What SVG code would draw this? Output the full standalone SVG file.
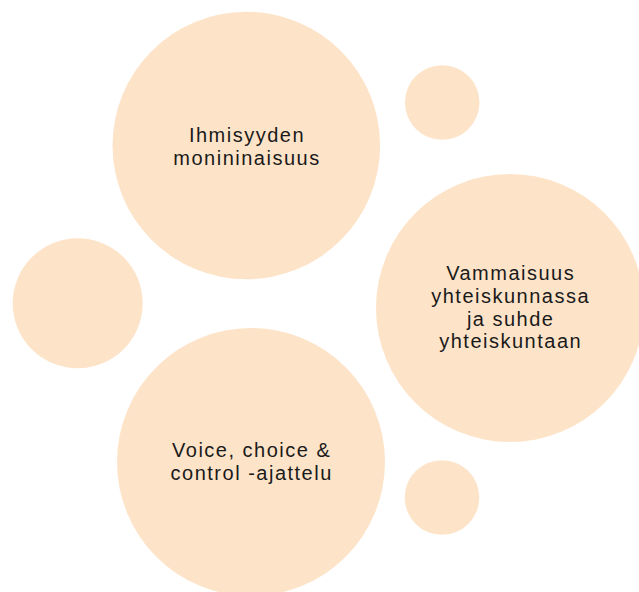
<svg xmlns="http://www.w3.org/2000/svg" width="639" height="592" viewBox="0 0 639 592">
<style>
.c{fill:#FDE4C9}
.t{font-family:"Liberation Sans",Arial,sans-serif;font-size:20px;fill:#1a1a1a;text-anchor:middle;letter-spacing:1.5px}
</style>
<rect width="639" height="592" fill="#ffffff"/>
<g id="connectors"></g>
<g id="n-top"><circle class="c" cx="246.3" cy="145.5" r="133.8"/><text class="t" x="247" y="141.5">Ihmisyyden</text><text class="t" x="247" y="165">monininaisuus</text></g>
<g id="n-small1"><circle class="c" cx="442.2" cy="102.5" r="37.3"/></g>
<g id="n-right"><circle class="c" cx="510" cy="308" r="134"/><text class="t" x="510.7" y="280">Vammaisuus</text><text class="t" x="510.7" y="302.7">yhteiskunnassa</text><text class="t" x="510.7" y="325.5">ja suhde</text><text class="t" x="510.7" y="348">yhteiskuntaan</text></g>
<g id="n-left"><circle class="c" cx="77.7" cy="303.3" r="65"/></g>
<g id="n-bottom"><circle class="c" cx="251" cy="462" r="134"/><text class="t" x="251.7" y="456.7">Voice, choice &amp;</text><text class="t" x="251.7" y="480">control -ajattelu</text></g>
<g id="n-small2"><circle class="c" cx="442" cy="497.5" r="37.3"/></g>
</svg>
